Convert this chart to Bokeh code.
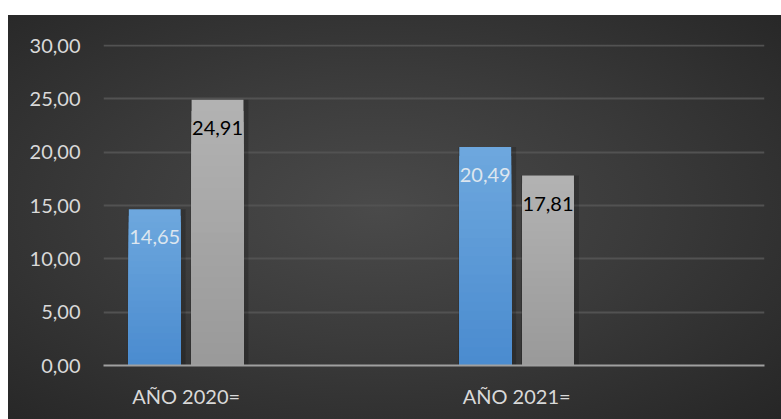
from bokeh.plotting import figure
from bokeh.models import ColumnDataSource, FixedTicker, Spacer
from bokeh.layouts import column, row
from bokeh.embed import file_html
from bokeh.resources import INLINE
from bokeh.core.properties import value

categories = ["AÑO 2020=", "AÑO 2021="]
serie_a = [14.65, 20.49]
serie_b = [24.91, 17.81]
labels_a = ["14,65", "20,49"]
labels_b = ["24,91", "17,81"]
y_ticks = [0, 5, 10, 15, 20, 25, 30]
y_tick_labels = ["0,00", "5,00", "10,00", "15,00", "20,00", "25,00", "30,00"]

idx = list(range(len(categories)))
offset = 0.095
bw = 0.157
FONT = "Lato"


def mix(c1, c2, t):
    a = [int(c1[i:i + 2], 16) for i in (1, 3, 5)]
    b = [int(c2[i:i + 2], 16) for i in (1, 3, 5)]
    return "#%02x%02x%02x" % tuple(round(a[k] + (b[k] - a[k]) * t) for k in range(3))


p = figure(width=773, height=404, x_range=(-0.25, 1.75), y_range=(0, 30.1),
           output_backend="svg", toolbar_location=None,
           min_border_left=95, min_border_right=17, min_border_top=29, min_border_bottom=54)
p.outline_line_color = None
p.background_fill_color = None
p.border_fill_color = None
p.styles = {"background": "radial-gradient(ellipse at 48% 48%, #4a4a4a 0%, #3b3b3b 45%, #262626 100%)"}

# grid
p.xgrid.grid_line_color = None
p.ygrid.ticker = FixedTicker(ticks=y_ticks[1:])
p.ygrid.grid_line_color = "#525252"
p.ygrid.grid_line_width = 2

# bars with shadow and vertical gradient (layers as fractions of each value)
xs_a = [i - offset for i in idx]
xs_b = [i + offset for i in idx]
for xs, vals in ((xs_a, serie_a), (xs_b, serie_b)):
    p.vbar(x=[x + 0.006 for x in xs], top=vals, bottom=0, width=bw + 0.018,
           fill_color="#000000", fill_alpha=0.18, line_color=None)

N = 24
for xs, vals, ctop, cbot in ((xs_a, serie_a, "#6ea8de", "#4a8bcf"),
                             (xs_b, serie_b, "#b3b3b3", "#999999")):
    for k in range(N - 1, -1, -1):
        t1 = (k + 1) / N
        src = ColumnDataSource(dict(x=xs, t=[v * t1 for v in vals]))
        p.vbar(x="x", top="t", bottom=0, width=bw, source=src,
               fill_color=mix(cbot, ctop, (k + 0.5) / N), line_color=None)

src_a = ColumnDataSource(dict(x=xs_a, top=serie_a, lab=labels_a))
src_b = ColumnDataSource(dict(x=xs_b, top=serie_b, lab=labels_b))
p.text(x="x", y="top", text="lab", source=src_a, text_align="center", text_baseline="middle",
       y_offset=28, text_color="#dde6ef", text_font=value(FONT), text_font_size="20px")
p.text(x="x", y="top", text="lab", source=src_b, text_align="center", text_baseline="middle",
       y_offset=28, text_color="#000000", text_font=value(FONT), text_font_size="20px")

# y axis
p.yaxis.ticker = FixedTicker(ticks=y_ticks)
p.yaxis.major_label_overrides = {t: l for t, l in zip(y_ticks, y_tick_labels)}
p.yaxis.axis_line_color = None
p.yaxis.major_tick_line_color = None
p.yaxis.minor_tick_line_color = None
p.yaxis.major_tick_out = 0
p.yaxis.major_label_standoff = 23
p.yaxis.major_label_text_font = FONT
p.yaxis.major_label_text_font_size = "20px"
p.yaxis.major_label_text_color = "#d9d9d9"

# x axis
p.xaxis.ticker = FixedTicker(ticks=idx)
p.xaxis.major_label_overrides = {i: c for i, c in zip(idx, categories)}
p.xaxis.axis_line_color = "#a0a0a0"
p.xaxis.axis_line_width = 2
p.xaxis.major_tick_line_color = None
p.xaxis.minor_tick_line_color = None
p.xaxis.major_tick_out = 0
p.xaxis.major_label_standoff = 18
p.xaxis.major_label_text_font = FONT
p.xaxis.major_label_text_font_size = "20px"
p.xaxis.major_label_text_color = "#d9d9d9"

layout = column(Spacer(height=15, width=781), row(Spacer(width=8, height=404), p))

open("out.html", "w").write(file_html(layout, INLINE))
